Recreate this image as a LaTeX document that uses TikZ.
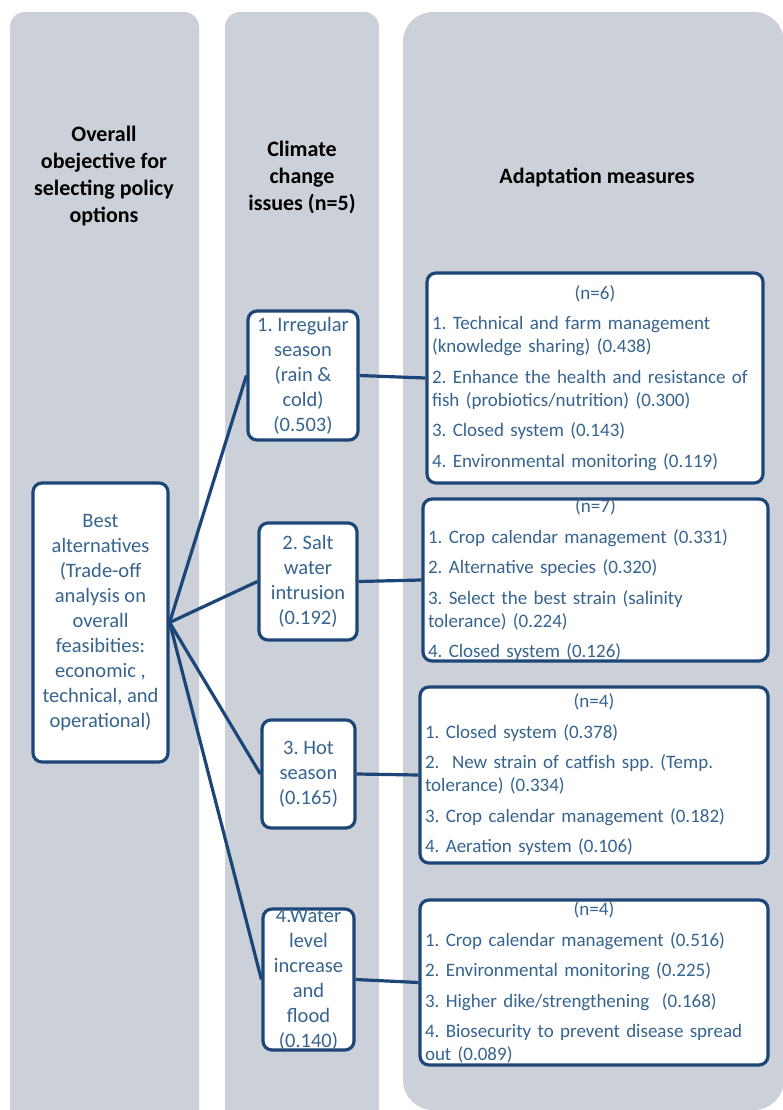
\documentclass[tikz,border=0pt]{standalone}
\usepackage{fontspec}
\setmainfont{Carlito}
\usepackage{tikz}
\definecolor{lanegray}{HTML}{CBD0D9}
\definecolor{boxnavy}{HTML}{1C4677}
\definecolor{txtblue}{HTML}{36648F}
\frenchspacing

\begin{document}
\begin{tikzpicture}[
    x=1pt, y=-1pt,
    lane/.style={fill=lanegray},
    head/.style={align=center, font=\fontsize{22}{27}\selectfont\bfseries},
    box/.style={draw=boxnavy, line width=3.2pt, fill=white, rounded corners=9pt, text=txtblue, inner sep=0pt},
    issue/.style={box, align=center, font=\fontsize{20.5}{25}\selectfont},
    measure/.style={box, align=left, inner xsep=5pt, font=\fontsize{19}{23}\selectfont},
    link/.style={draw=boxnavy, line width=3.2pt}
]

\useasboundingbox (0,0) rectangle (782,1110);

% Columns
\fill[lane, rounded corners=15pt] (10,12) rectangle (199,1125);
\fill[lane, rounded corners=15pt] (225,12) rectangle (379,1125);
\fill[lane, rounded corners=30pt] (403,12) rectangle (784,1110);

% Column titles
\node[head] (hobj) at (104,176) {Overall\\obejective for\\selecting policy\\options};
\node[head] (hiss) at (302,177) {Climate\\change\\issues (n=5)};
\node[head] (hmea) at (597,177) {Adaptation measures};

% Objective
\node[issue, minimum width=135pt, minimum height=279pt] (best) at (100.5,622.5)
    {Best\\alternatives\\(Trade-off\\analysis on\\overall\\feasibities:\\economic ,\\technical, and\\operational)};

% Climate change issues
\node[issue, minimum width=110pt, minimum height=129pt] (iss1) at (303,375.5) {1. Irregular\\season\\(rain \&\\cold)\\(0.503)};
\node[issue, minimum width=98pt, minimum height=117pt] (iss2) at (308,581.5) {2. Salt\\water\\intrusion\\(0.192)};
\node[issue, minimum width=93pt, minimum height=108pt] (iss3) at (308.5,774) {3. Hot\\season\\(0.165)};
\node[issue, minimum width=91pt, minimum height=125pt] (iss4) at (308.5,979.5) {4.Water\\level\\increase\\and\\flood\\(0.140)};

% Adaptation measures
\node[measure, text width=326pt, minimum height=210pt] (m1) at (595,378)
    {\hspace*{\fill}(n=6)\hspace*{\fill}\mbox{}\\[7.5pt]
     1. Technical and farm management\\(knowledge sharing) (0.438)\\[7.5pt]
     2. Enhance the health and resistance of\\fish (probiotics/nutrition) (0.300)\\[7.5pt]
     3. Closed system (0.143)\\[7.5pt]
     4. Environmental monitoring (0.119)};
\node[measure, text width=335pt, minimum height=160pt] (m2) at (595.5,580)
    {\hspace*{\fill}(n=7)\hspace*{\fill}\mbox{}\\[7.5pt]
     1. Crop calendar management (0.331)\\[7.5pt]
     2. Alternative species (0.320)\\[7.5pt]
     3. Select the best strain (salinity\\tolerance) (0.224)\\[7.5pt]
     4. Closed system (0.126)};
\node[measure, text width=338pt, minimum height=176pt] (m3) at (594,775)
    {\hspace*{\fill}(n=4)\hspace*{\fill}\mbox{}\\[7.5pt]
     1. Closed system (0.378)\\[7.5pt]
     2.\ \ New strain of catfish spp. (Temp.\\tolerance) (0.334)\\[7.5pt]
     3. Crop calendar management (0.182)\\[7.5pt]
     4. Aeration system (0.106)};
\node[measure, text width=338pt, minimum height=165pt] (m4) at (594,982.5)
    {\hspace*{\fill}(n=4)\hspace*{\fill}\mbox{}\\[7.5pt]
     1. Crop calendar management (0.516)\\[7.5pt]
     2. Environmental monitoring (0.225)\\[7.5pt]
     3. Higher dike/strengthening\ \ (0.168)\\[7.5pt]
     4. Biosecurity to prevent disease spread\\out (0.089)};

% Links objective -> issues
\draw[link] (best.east) -- (iss1.west);
\draw[link] (best.east) -- (iss2.west);
\draw[link] (best.east) -- (iss3.west);
\draw[link] (best.east) -- (iss4.west);

% Links issues -> measures
\draw[link] (iss1.east) -- (m1.west);
\draw[link] (iss2.east) -- (m2.west);
\draw[link] (iss3.east) -- (m3.west);
\draw[link] (iss4.east) -- (m4.west);

\end{tikzpicture}
\end{document}
